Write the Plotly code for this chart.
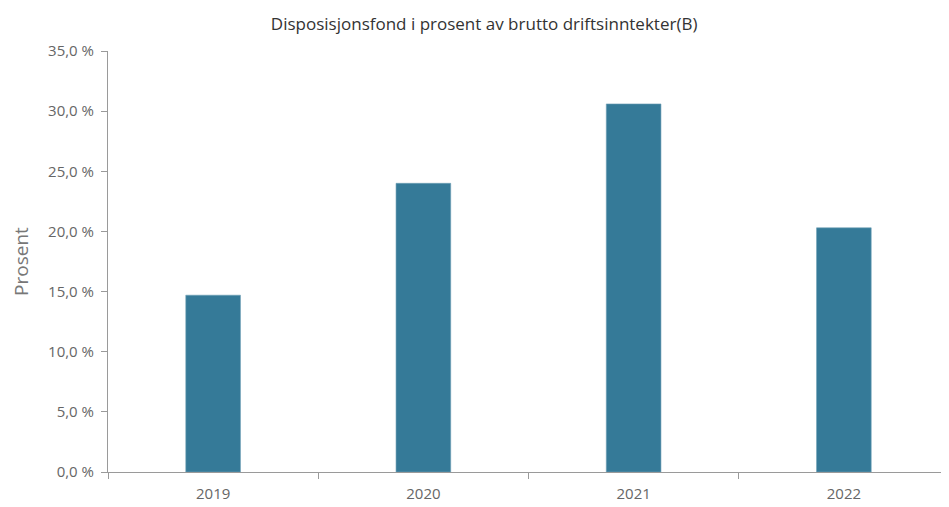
import plotly.graph_objects as go

YEARS = ["2019", "2020", "2021", "2022"]
PROSENT = [14.7, 24.0, 30.6, 20.3]
Y_TICKS = [0, 5, 10, 15, 20, 25, 30, 35]
Y_LABELS = [f"{v:.1f} %".replace(".", ",") for v in Y_TICKS]

BAR = "#357A98"
AXIS = "#9A9A9A"
TEXT = "#666666"
FONT = "Open Sans, Noto Sans, sans-serif"

fig = go.Figure(go.Bar(
    x=YEARS, y=PROSENT, width=0.26,
    marker=dict(color=BAR, line=dict(color="#6E9FB5", width=0.6)),
))

# page body has an 8px margin, so the figure is sized/offset to compensate
fig.update_layout(
    title=dict(text="Disposisjonsfond i prosent av brutto driftsinntekter(B)",
               x=0.506, xanchor="center", y=0.968, yanchor="middle",
               font=dict(size=17, color="#333333", family=FONT)),
    width=941, height=499,
    margin=dict(l=100, r=0, t=43, b=35),
    paper_bgcolor="white", plot_bgcolor="white",
    font=dict(family=FONT, color=TEXT, size=15),
    showlegend=False,
)
fig.update_xaxes(
    showline=True, linecolor=AXIS, linewidth=1,
    ticks="outside", tickson="boundaries", ticklen=6, tickcolor=AXIS,
    showgrid=False, range=[-0.5, 3.5],
    tickfont=dict(size=15, color=TEXT), ticklabelstandoff=8,
)
fig.update_yaxes(
    showline=True, linecolor=AXIS, linewidth=1,
    ticks="outside", ticklen=6, tickcolor=AXIS,
    showgrid=False, zeroline=False, range=[0, 35],
    tickvals=Y_TICKS, ticktext=Y_LABELS,
    tickfont=dict(size=15, color=TEXT), ticklabelstandoff=4,
    title=dict(text="Prosent", font=dict(size=19, color="#777777"), standoff=14),
)

fig.write_html("out.html")
